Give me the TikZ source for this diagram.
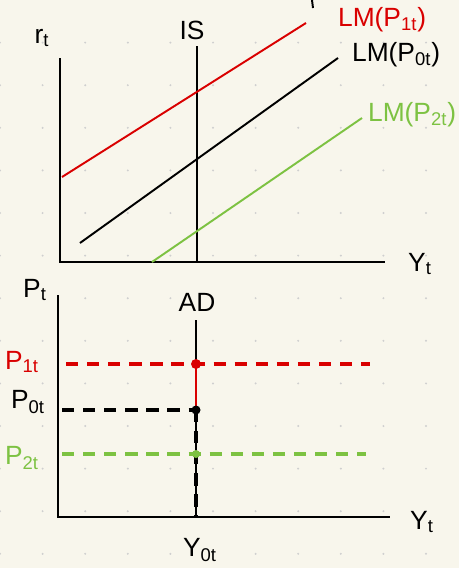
\documentclass[tikz,border=0pt]{standalone}
\usepackage{fontspec}
\setmainfont{Liberation Sans}
\definecolor{paper}{HTML}{F8F6EC}
\definecolor{griddot}{HTML}{CFCFCF}
\definecolor{lmred}{HTML}{D90000}
\definecolor{lmgreen}{HTML}{7DC242}
\tikzset{
  axis/.style={line width=1.3pt},
  curve/.style={line width=1.1pt},
  guide/.style={line width=1.8pt, dash pattern=on 7pt off 5pt},
  lbl/.style={font=\fontsize{15}{17}\selectfont, inner sep=1pt},
}
\begin{document}
\begin{tikzpicture}[x=0.02cm, y=-0.02cm]

  % Paper and dot grid
  \fill[paper] (0,0) rectangle (459,568);
  \useasboundingbox (0,0) rectangle (459,568);
  \foreach \i in {0,...,10}
    \foreach \j in {1,...,13}
      \fill[griddot] (42.6*\i,42.6*\j) circle (1.1);

  % ---------- IS-LM panel ----------
  \coordinate (rO) at (60,262);
  \coordinate (rTop) at (60,58);
  \coordinate (rEnd) at (385,262);
  \draw[axis] (rTop) -- (rO) -- (rEnd);
  \node[lbl] (rt) at (42,38) {r\textsubscript{t}};
  \node[lbl] (Ytop) at (420,264) {Y\textsubscript{t}};

  % IS curve
  \coordinate (IStop) at (197,46);
  \coordinate (ISbot) at (197,262);
  \draw[curve] (IStop) -- (ISbot);
  \node[lbl] (IS) at (192,30) {IS};

  % LM curves
  \coordinate (LMa) at (62,177);  \coordinate (LMb) at (306,23);
  \coordinate (LMc) at (80,243);  \coordinate (LMd) at (338,58);
  \coordinate (LMe) at (152,262); \coordinate (LMf) at (362,118);
  \draw[curve, lmred] (LMa) -- (LMb);
  \draw[curve] (LMc) -- (LMd);
  \draw[curve, lmgreen] (LMe) -- (LMf);
  \node[lbl, lmred, anchor=west] (LM1) at (336,20) {LM(P\textsubscript{1t})};
  \node[lbl, anchor=west] (LM0) at (350,55) {LM(P\textsubscript{0t})};
  \node[lbl, lmgreen, anchor=west] (LM2) at (366,115) {LM(P\textsubscript{2t})};
  \draw[line width=1.1pt] (312,0) -- (313,8);

  % ---------- AD panel ----------
  \coordinate (pO) at (58,517);
  \coordinate (pTop) at (58,295);
  \coordinate (pEnd) at (390,517);
  \draw[axis] (pTop) -- (pO) -- (pEnd);
  \node[lbl] (Pt) at (35,290) {P\textsubscript{t}};
  \node[lbl] (Ybot) at (422,522) {Y\textsubscript{t}};

  % AD curve
  \coordinate (ADtop) at (196,320);
  \coordinate (ADbot) at (196,517);
  \draw[curve] (ADtop) -- (ADbot);
  \node[lbl] (AD) at (197,302) {AD};
  \node[lbl] (Y0t) at (200,550) {Y\textsubscript{0t}};

  % Price levels
  \coordinate (E1) at (196,364);
  \coordinate (E0) at (196,410);
  \coordinate (E2) at (196,454);
  \draw[guide, lmred] (66,364) -- (E1) -- (370,364);
  \draw[guide] (62,410) -- (E0);
  \draw[guide, lmgreen] (62,454) -- (E2) -- (366,454);
  \draw[line width=1.2pt, lmred] (E1) -- (E0);
  \draw[guide] (E0) -- (ADbot);
  \fill[lmred] (E1) circle (5);
  \fill (E0) circle (4.5);
  \fill[lmgreen] (E2) circle (4);
  \node[lbl, lmred] (P1) at (22,362) {P\textsubscript{1t}};
  \node[lbl] (P0) at (28,402) {P\textsubscript{0t}};
  \node[lbl, lmgreen] (P2) at (22,458) {P\textsubscript{2t}};

\end{tikzpicture}
\end{document}
